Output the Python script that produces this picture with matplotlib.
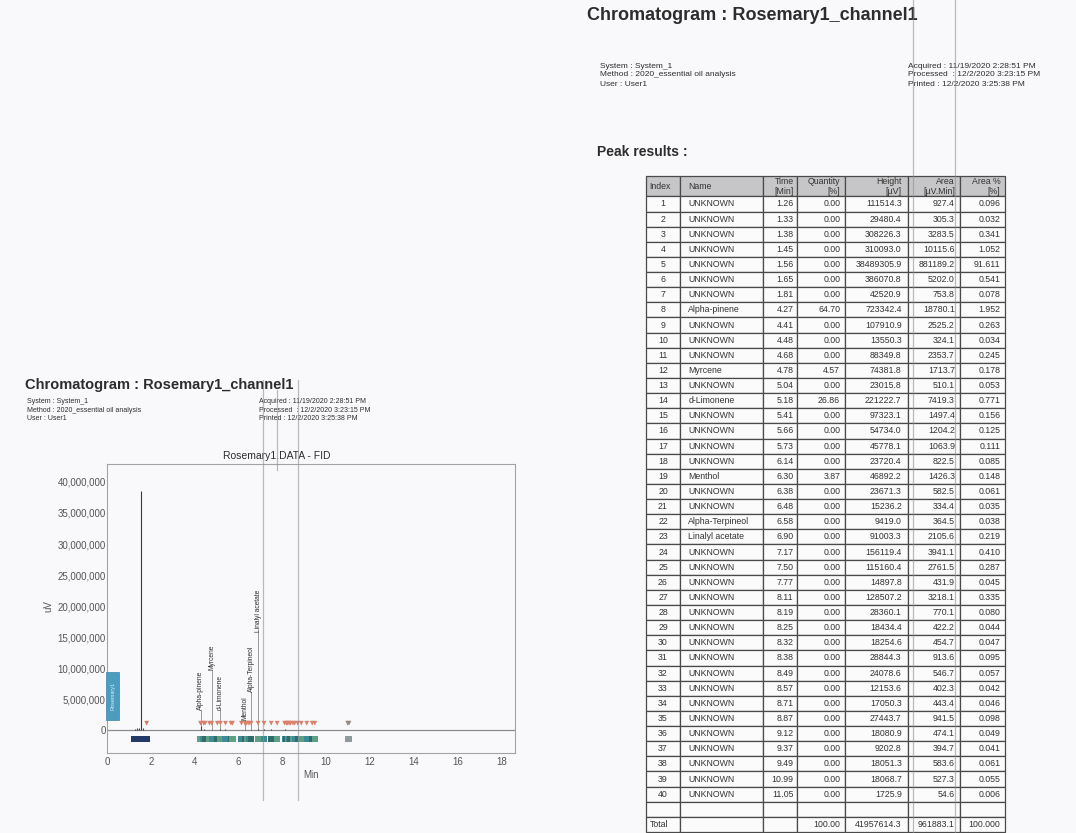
import numpy as np
import matplotlib.pyplot as plt
from matplotlib.table import Table
from matplotlib.patches import Rectangle
from matplotlib.lines import Line2D

plt.rcParams['font.family'] = ['Liberation Sans', 'DejaVu Sans']

W, H = 1076, 833


def fx(px):
    return px / W


def fy(py):
    return 1 - py / H


# peak results
peak_index = list(range(1, 41))
peak_names = (['UNKNOWN'] * 7 + ['Alpha-pinene'] + ['UNKNOWN'] * 3
              + ['Myrcene', 'UNKNOWN', 'd-Limonene'] + ['UNKNOWN'] * 4
              + ['Menthol', 'UNKNOWN', 'UNKNOWN', 'Alpha-Terpineol', 'Linalyl acetate']
              + ['UNKNOWN'] * 17)
times = [1.26, 1.33, 1.38, 1.45, 1.56, 1.65, 1.81, 4.27, 4.41, 4.48,
         4.68, 4.78, 5.04, 5.18, 5.41, 5.66, 5.73, 6.14, 6.30, 6.38,
         6.48, 6.58, 6.90, 7.17, 7.50, 7.77, 8.11, 8.19, 8.25, 8.32,
         8.38, 8.49, 8.57, 8.71, 8.87, 9.12, 9.37, 9.49, 10.99, 11.05]
quantity = [0.00] * 7 + [64.70] + [0.00] * 3 + [4.57, 0.00, 26.86] + [0.00] * 4 + [3.87] + [0.00] * 21
heights = [111514.3, 29480.4, 308226.3, 310093.0, 38489305.9, 386070.8, 42520.9,
           723342.4, 107910.9, 13550.3, 88349.8, 74381.8, 23015.8, 221222.7,
           97323.1, 54734.0, 45778.1, 23720.4, 46892.2, 23671.3, 15236.2,
           9419.0, 91003.3, 156119.4, 115160.4, 14897.8, 128507.2, 28360.1,
           18434.4, 18254.6, 28844.3, 24078.6, 12153.6, 17050.3, 27443.7,
           18080.9, 9202.8, 18051.3, 18068.7, 1725.9]
areas = [927.4, 305.3, 3283.5, 10115.6, 881189.2, 5202.0, 753.8, 18780.1,
         2525.2, 324.1, 2353.7, 1713.7, 510.1, 7419.3, 1497.4, 1204.2,
         1063.9, 822.5, 1426.3, 582.5, 334.4, 364.5, 2105.6, 3941.1,
         2761.5, 431.9, 3218.1, 770.1, 422.2, 454.7, 913.6, 546.7,
         402.3, 443.4, 941.5, 474.1, 394.7, 583.6, 527.3, 54.6]
area_pct = [0.096, 0.032, 0.341, 1.052, 91.611, 0.541, 0.078, 1.952, 0.263, 0.034,
            0.245, 0.178, 0.053, 0.771, 0.156, 0.125, 0.111, 0.085, 0.148, 0.061,
            0.035, 0.038, 0.219, 0.410, 0.287, 0.045, 0.335, 0.080, 0.044, 0.047,
            0.095, 0.057, 0.042, 0.046, 0.098, 0.049, 0.041, 0.061, 0.055, 0.006]
total_quantity = 100.00
total_height = 41957614.3
total_area = 961883.1
total_area_pct = 100.000

col_headers = ['Index', 'Name', 'Time\n[Min]', 'Quantity\n[%]', 'Height\n[µV]',
               'Area\n[µV.Min]', 'Area %\n[%]']

# labelled peaks on the chromatogram and the height their label sits at
label_names = ['Alpha-pinene', 'Myrcene', 'd-Limonene', 'Menthol',
               'Alpha-Terpineol', 'Linalyl acetate']
label_y = [3.2e6, 9.7e6, 3.2e6, 1.6e6, 6.1e6, 15.8e6]

title = 'Chromatogram : Rosemary1_channel1'
meta_left = ['System : System_1', 'Method : 2020_essential oil analysis', 'User : User1']
meta_right = ['Acquired : 11/19/2020 2:28:51 PM', 'Processed  : 12/2/2020 3:23:15 PM',
              'Printed : 12/2/2020 3:25:38 PM']

ink = '#2d2d2d'
fig = plt.figure(figsize=(W / 100, H / 100), dpi=100, facecolor='#f9f9fb')

# ---------------- left page (small copy with the chromatogram) -------------
fig.text(fx(25), fy(385), title, fontsize=10.5, fontweight='bold', color=ink, va='center')
for i, s in enumerate(meta_left):
    fig.text(fx(27), fy(402 + 8.5 * i), s, fontsize=5, color=ink, va='center')
for i, s in enumerate(meta_right):
    fig.text(fx(259), fy(402 + 8.5 * i), s, fontsize=5, color=ink, va='center')

ax = fig.add_axes([fx(107), fy(753), fx(515) - fx(107), fy(464) - fy(753)])
ax.set_facecolor('#f9f9fb')
ax.set_xlim(0, 18.63)
ax.set_ylim(-3.7e6, 42.9e6)
ax.axhline(0, color='#8c8c8c', lw=0.9, zorder=1)
ax.vlines(times, 0, heights, color='#3a3a3a', lw=0.8, zorder=2)

below_cols = []
above_cols = []
for i, t in enumerate(times):
    if t < 3:
        below_cols.append('#23396a')
        above_cols.append('#d27a66' if i == 6 else 'none')
    elif t > 10:
        below_cols.append('#8d9a9c')
        above_cols.append('#9a8a86')
    else:
        below_cols.append(['#2f6d69', '#5e9f86', '#3d8a98'][i % 3])
        above_cols.append('#d9816c')
ax.scatter(times, [-1.5e6] * len(times), marker='s', s=20, c=below_cols, lw=0, zorder=3)
ax.scatter(times, [1.1e6] * len(times), marker='v', s=12, c=above_cols, lw=0, zorder=3)

for name, ly in zip(label_names, label_y):
    t = times[peak_names.index(name)]
    ax.plot([t, t], [0, ly], color='#555555', lw=0.4, zorder=2)
    ax.text(t, ly, name, rotation=90, ha='center', va='bottom', fontsize=4.8, color=ink)

ax.set_xticks(range(0, 19, 2))
ax.set_yticks(np.arange(0, 40e6 + 1, 5e6))
ax.set_yticklabels([f'{v:,.0f}' for v in np.arange(0, 40e6 + 1, 5e6)])
ax.tick_params(labelsize=7, colors='#555555', length=0, pad=3)
ax.tick_params(axis='y', pad=1)
for sp in ax.spines.values():
    sp.set_color('#a3a3a3')
    sp.set_linewidth(0.8)
ax.text((277 - 107) / 408, 1.01, 'Rosemary1.DATA - FID', transform=ax.transAxes,
        ha='center', va='bottom', fontsize=7.5, color=ink)
ax.set_xlabel('Min', fontsize=7, color='#555555', labelpad=2)
fig.text(fx(48), fy(606), 'uV', rotation=90, fontsize=7, color='#555555', ha='center', va='center')

# trace tag sitting on the y axis
fig.patches.append(Rectangle((fx(106), fy(720)), fx(13), fy(672) - fy(720),
                             transform=fig.transFigure, facecolor='#4b9cbf',
                             edgecolor='#3b86a8', lw=0.5, zorder=5))
fig.text(fx(112.5), fy(696), 'Rosemary1', rotation=90, fontsize=4, color='#d8eef7',
         ha='center', va='center', zorder=6)

# ---------------- right page (peak results) --------------------------------
fig.text(fx(587), fy(15), title, fontsize=13, fontweight='bold', color=ink, va='center')
for i, s in enumerate(meta_left):
    fig.text(fx(600), fy(66 + 9 * i), s, fontsize=6, color=ink, va='center')
for i, s in enumerate(meta_right):
    fig.text(fx(908), fy(66 + 9 * i), s, fontsize=6, color=ink, va='center')
fig.text(fx(597), fy(152), 'Peak results :', fontsize=10, fontweight='bold', color=ink, va='center')

col_px = [34, 83, 34, 48, 63, 52, 45]
col_loc = ['center', 'left', 'right', 'right', 'right', 'right', 'right']
tax = fig.add_axes([fx(646), fy(832), fx(646 + sum(col_px)) - fx(646), fy(176) - fy(832)])
tax.axis('off')
tb = Table(tax, bbox=[0, 0, 1, 1])
row_h = 1.0
for c, (w, hdr) in enumerate(zip(col_px, col_headers)):
    cell = tb.add_cell(0, c, width=w, height=1.35 * row_h, text=hdr,
                       loc='left' if c < 2 else 'right', facecolor='#c6c6c8',
                       edgecolor='#4a4a4a')
    cell.get_text().set_color('#333333')
    cell.set_linewidth(0.9)

for r in range(len(peak_index)):
    vals = [str(peak_index[r]), peak_names[r], f'{times[r]:.2f}', f'{quantity[r]:.2f}',
            f'{heights[r]:.1f}', f'{areas[r]:.1f}', f'{area_pct[r]:.3f}']
    for c, (w, v) in enumerate(zip(col_px, vals)):
        cell = tb.add_cell(r + 1, c, width=w, height=row_h, text=v, loc=col_loc[c],
                           facecolor='#fbfbfc', edgecolor='#4a4a4a')
        cell.get_text().set_color('#333333')
        cell.set_linewidth(0.9)

blank = len(peak_index) + 1
total_vals = ['Total', '', '', f'{total_quantity:.2f}', f'{total_height:.1f}',
              f'{total_area:.1f}', f'{total_area_pct:.3f}']
for c, w in enumerate(col_px):
    cell = tb.add_cell(blank, c, width=w, height=row_h, text='', facecolor='#fbfbfc',
                       edgecolor='#4a4a4a')
    cell.set_linewidth(0.9)
    cell = tb.add_cell(blank + 1, c, width=w, height=row_h, text=total_vals[c],
                       loc='left' if c == 0 else 'right', facecolor='#fbfbfc',
                       edgecolor='#4a4a4a')
    cell.get_text().set_color('#333333')
    cell.set_linewidth(0.9)
tb.auto_set_font_size(False)
tb.set_fontsize(6.3)
tax.add_table(tb)

# scan artefacts: fold lines running through both pages
for x0, y0, y1 in [(263, 380, 800), (277, 390, 470), (298, 380, 800),
                   (913, 0, 833), (955, 0, 833)]:
    fig.add_artist(Line2D([fx(x0), fx(x0)], [fy(y0), fy(y1)], transform=fig.transFigure,
                          color='#8f8f94', lw=0.9, alpha=0.6, zorder=10))

fig.savefig('out.png', dpi=100, facecolor=fig.get_facecolor())
